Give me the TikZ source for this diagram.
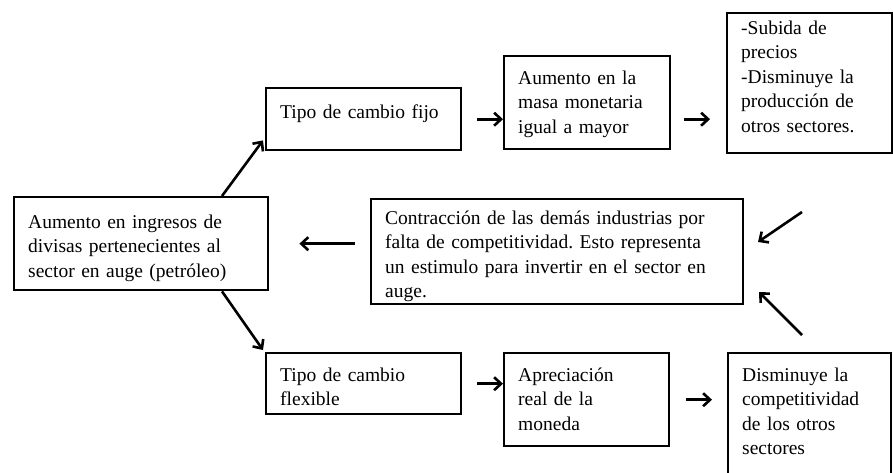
\documentclass[tikz,border=0pt]{standalone}
\usepackage{fontspec}
\setmainfont{Liberation Serif}
\usepackage{tikz}
\usetikzlibrary{arrows.meta, calc, positioning}
\frenchspacing

\begin{document}
\begin{tikzpicture}[x=1pt, y=-1pt, >={Straight Barb[length=7pt,width=13pt]},
    caja/.style={draw, line width=2.4pt, anchor=north west, inner xsep=14pt, inner ysep=0pt, align=left, font=\fontsize{19.5}{24.5}\selectfont},
    flecha/.style={->, line width=2.6pt}]
    \useasboundingbox (0,0) rectangle (893,472);

    % Sector en auge
    \node[caja, text width=226pt, text height=31pt, text depth=62pt] (auge) at (13,196) {Aumento en ingresos de\\divisas pertenecientes al\\sector en auge (petróleo)};

    % Rama superior: tipo de cambio fijo
    \node[caja, text width=167pt, text height=30pt, text depth=32pt] (fijo) at (265,87) {Tipo de cambio fijo};
    \node[caja, text width=138pt, text height=28pt, text depth=65pt] (masa) at (503,55) {Aumento en la\\masa monetaria\\igual a mayor};
    \node[caja, text width=137pt, text height=21pt, text depth=119pt] (subida) at (726,12) {-Subida de\\precios\\-Disminuye la\\producción de\\otros sectores.};

    % Centro
    \node[caja, text width=344pt, text height=25pt, text depth=80pt] (contra) at (370,198) {Contracción de las demás industrias por\\falta de competitividad. Esto representa\\un estimulo para invertir en el sector en\\auge.};

    % Rama inferior: tipo de cambio flexible
    \node[caja, text width=167pt, text height=28pt, text depth=33pt] (flex) at (265,352) {Tipo de cambio\\flexible};
    \node[caja, text width=137pt, text height=28pt, text depth=65pt] (aprec) at (503,352) {Apreciación\\real de la\\moneda};
    \node[caja, text width=135pt, text height=28pt, text depth=102pt] (dismi) at (727,352) {Disminuye la\\competitividad\\de los otros\\sectores};

    % Extremos libres de las flechas de la derecha
    \coordinate (der1a) at (802,212);
    \coordinate (der1b) at (758,242);
    \coordinate (der2a) at (802,335);
    \coordinate (der2b) at (759,292);

    % Flechas
    \draw[flecha] ($(auge.north west)+(209,0)$) -- ($(fijo.south west)+(-2,-11)$);
    \draw[flecha] ($(auge.south west)+(209,0)$) -- ($(flex.north west)+(-2,-2)$);
    \draw[flecha] ($(fijo.east)+(15,0)$) -- (masa.west |- fijo.east);
    \draw[flecha] ($(masa.east |- fijo.east)+(13,0)$) -- ($(subida.west |- fijo.east)+(-16,0)$);
    \draw[flecha] (der1a) -- (der1b);
    \draw[flecha] (der2a) -- (der2b);
    \draw[flecha] ($(contra.west |- auge.east)+(-15,0)$) -- ($(auge.east)+(30,0)$);
    \draw[flecha] ($(flex.east)+(15,0)$) -- (aprec.west |- flex.east);
    \draw[flecha] ($(aprec.east)+(16,0)$) -- ($(dismi.west |- aprec.east)+(-15,0)$);
\end{tikzpicture}
\end{document}
